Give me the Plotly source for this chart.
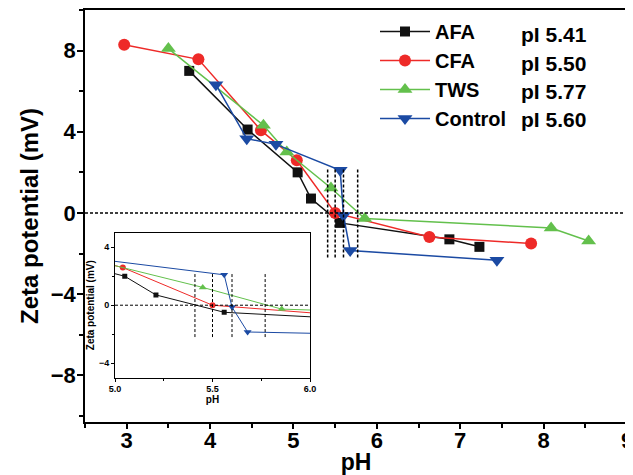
import plotly.graph_objects as go

# ---- data ----
series_names = ["AFA", "CFA", "TWS", "Control"]
pi_labels = ["pI 5.41", "pI 5.50", "pI 5.77", "pI 5.60"]
pi_values = [5.41, 5.50, 5.60, 5.77]

afa_ph = [3.75, 4.45, 5.05, 5.21, 5.56, 6.87, 7.23]
afa_zeta = [7.0, 4.11, 2.0, 0.71, -0.49, -1.30, -1.67]

cfa_ph = [2.97, 3.86, 4.61, 5.04, 5.50, 6.63, 7.85]
cfa_zeta = [8.29, 7.57, 4.07, 2.6, 0.0, -1.18, -1.51]

tws_ph = [3.50, 4.64, 4.92, 5.45, 5.855, 8.09, 8.54]
tws_zeta = [8.1, 4.32, 3.0, 1.23, -0.27, -0.74, -1.38]

ctrl_ph = [4.07, 4.44, 4.79, 5.56, 5.60, 5.68, 7.44]
ctrl_zeta = [6.32, 3.66, 3.38, 2.1, -0.13, -1.85, -2.33]

x_ticks = [3, 4, 5, 6, 7, 8, 9]
y_ticks = [-8, -4, 0, 4, 8]
inset_x_ticks = [5.0, 5.5, 6.0]
inset_y_ticks = [-4, 0, 4]

colors = ["#111111", "#EE2A28", "#63C04C", "#1B4AA3"]
symbols = ["square", "circle", "triangle-up", "triangle-down"]
msize = [10, 12, 13, 13]
inset_msize = [5, 6, 7, 7]
xs = [afa_ph, cfa_ph, tws_ph, ctrl_ph]
ys = [afa_zeta, cfa_zeta, tws_zeta, ctrl_zeta]

FONT = "Liberation Sans, Arial, sans-serif"

# The page body has an 8px margin, so the figure is drawn 8px right/down.
PAGE_OFF = 8
W, H = 633 - PAGE_OFF, 475 - PAGE_OFF
PL, PR, PT, PB = 85, 627, 10, 421.7  # plot area in page pixels


def fx(px):
    return (px - PL) / (PR - PL)


def fy(py):
    return (PB - py) / (PB - PT)


fig = go.Figure()
for i, name in enumerate(series_names):
    fig.add_trace(go.Scatter(
        x=xs[i], y=ys[i], mode="lines+markers", name=name,
        line=dict(color=colors[i], width=1.5),
        marker=dict(symbol=symbols[i], size=msize[i], color=colors[i], line=dict(width=0)),
        xaxis="x", yaxis="y", showlegend=True))
for i, name in enumerate(series_names):
    fig.add_trace(go.Scatter(
        x=xs[i], y=ys[i], mode="lines+markers", name=name,
        line=dict(color=colors[i], width=1),
        marker=dict(symbol=symbols[i], size=inset_msize[i], color=colors[i], line=dict(width=0)),
        xaxis="x2", yaxis="y2", showlegend=False))

dash = "3px,2px"
shapes = []
shapes.append(dict(type="line", xref="x domain", yref="y", x0=0, x1=1, y0=0, y1=0,
                   line=dict(color="black", width=1.5, dash=dash)))
shapes.append(dict(type="line", xref="x2 domain", yref="y2", x0=0, x1=1, y0=0, y1=0,
                   line=dict(color="black", width=1, dash=dash)))
for p in pi_values:
    shapes.append(dict(type="line", xref="x", yref="y", x0=p, x1=p, y0=-2.2, y1=2.2,
                       line=dict(color="black", width=1.5, dash=dash)))
    shapes.append(dict(type="line", xref="x2", yref="y2", x0=p, x1=p, y0=-2.2, y1=2.2,
                       line=dict(color="black", width=1, dash=dash)))

annotations = []
row_px = [34, 63, 91, 119]
for lbl, py in zip(pi_labels, row_px):
    annotations.append(dict(text=lbl, xref="paper", yref="paper",
                            x=fx(519), y=fy(py),
                            xanchor="left", yanchor="middle", showarrow=False,
                            font=dict(family=FONT, size=21, color="black", weight="bold")))

axis_common = dict(showline=True, linecolor="black", mirror=True, showgrid=False,
                   zeroline=False, ticks="outside", tickcolor="black", automargin=False)

fig.update_layout(
    width=W, height=H,
    margin=dict(l=PL - PAGE_OFF, r=633 - PR, t=PT - PAGE_OFF, b=475 - PB, autoexpand=False),
    paper_bgcolor="white", plot_bgcolor="white",
    font=dict(family=FONT, color="black"),
    xaxis=dict(range=[2.5, 9], tickvals=x_ticks, linewidth=1.5, ticklen=5, tickwidth=1.5,
               tickfont=dict(size=22, weight="bold"), ticklabelstandoff=-7,
               ticklabeloverflow="allow",
               title=dict(text="pH", font=dict(size=23, weight="bold"), standoff=0),
               minor=dict(dtick=0.5, ticks="outside", ticklen=4, tickcolor="black", showgrid=False),
               domain=[0, 1], **axis_common),
    yaxis=dict(range=[-10.3, 10], tickvals=y_ticks, linewidth=1.5, ticklen=6, tickwidth=1.5,
               tickfont=dict(size=22, weight="bold"), ticklabelstandoff=-3,
               title=dict(text="Zeta potential (mV)", font=dict(size=24, weight="bold"), standoff=5),
               minor=dict(dtick=2, ticks="outside", ticklen=4, tickcolor="black", showgrid=False),
               domain=[0, 1], **axis_common),
    xaxis2=dict(range=[5.0, 6.0], tickvals=inset_x_ticks, ticktext=["5.0", "5.5", "6.0"],
                linewidth=1, ticklen=3, tickwidth=1,
                tickfont=dict(size=9, weight="bold"),
                title=dict(text="pH", font=dict(size=10, weight="bold"), standoff=1),
                minor=dict(dtick=0.25, ticks="outside", ticklen=2, tickcolor="black", showgrid=False),
                domain=[fx(115), fx(310)], anchor="y2", **axis_common),
    yaxis2=dict(range=[-5, 5], tickvals=inset_y_ticks, linewidth=1, ticklen=3, tickwidth=1,
                tickfont=dict(size=9, weight="bold"),
                title=dict(text="Zeta potential (mV)", font=dict(size=10, weight="bold"), standoff=2),
                minor=dict(dtick=2, ticks="outside", ticklen=2, tickcolor="black", showgrid=False),
                domain=[fy(377.3), fy(232.7)], anchor="x2", **axis_common),
    legend=dict(x=fx(375), y=fy(12), xanchor="left", yanchor="top",
                bgcolor="rgba(0,0,0,0)", borderwidth=0, itemwidth=50,
                font=dict(family=FONT, size=20, color="black", weight="bold"),
                tracegroupgap=0),
    shapes=shapes,
    annotations=annotations,
)

fig.write_html("out.html")
